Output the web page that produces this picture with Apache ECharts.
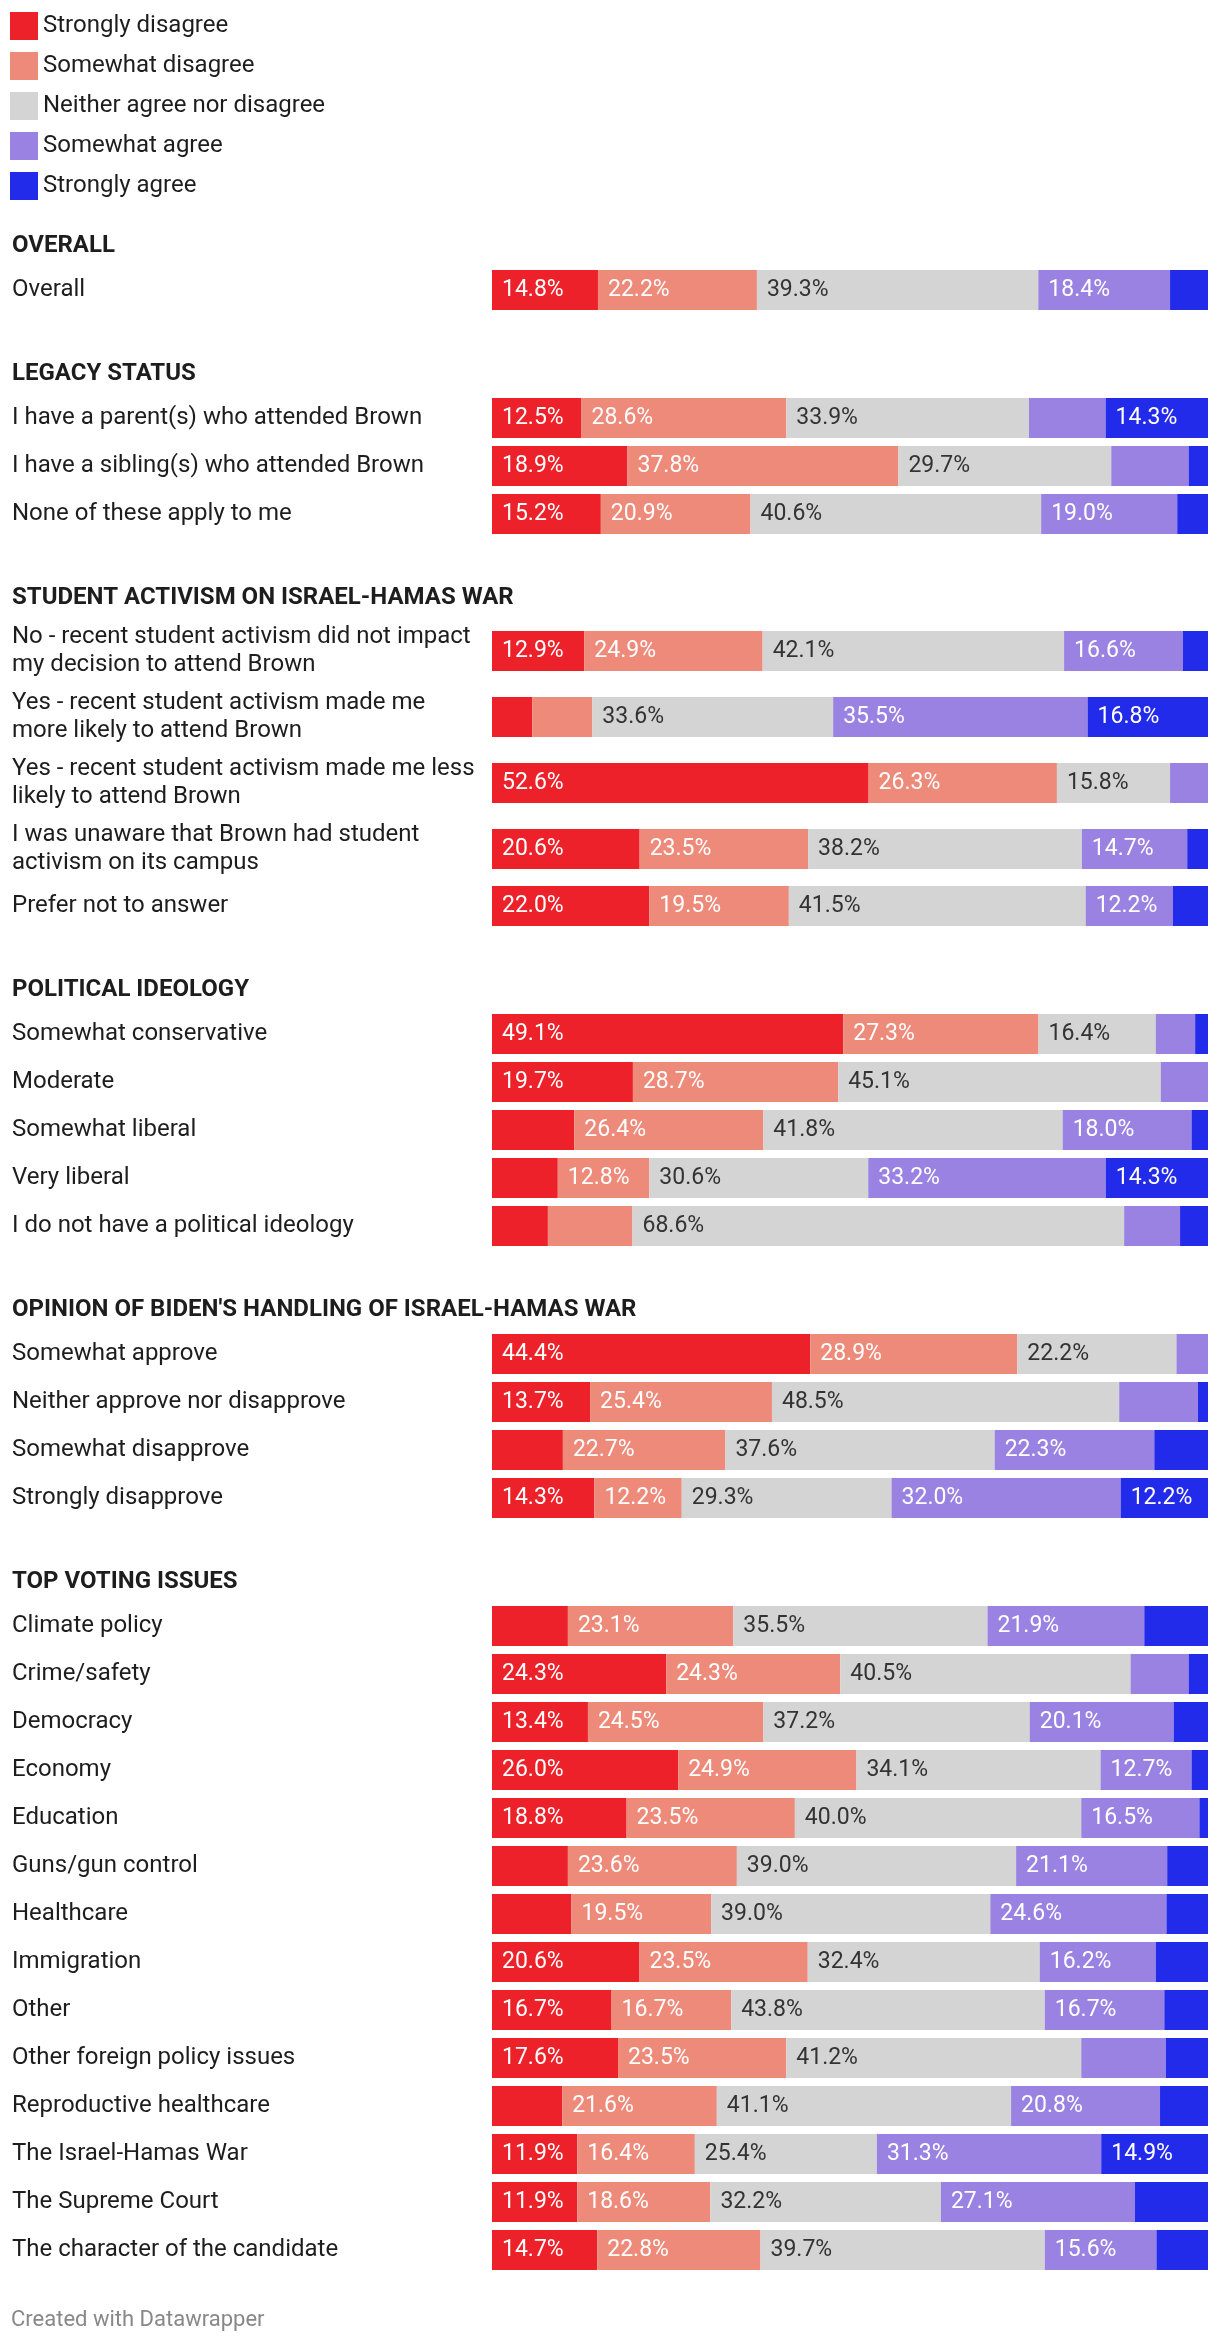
<!DOCTYPE html>
<html>
<head>
<meta charset="utf-8">
<script src="https://cdn.jsdelivr.net/npm/echarts@6/dist/echarts.min.js"></script>
<style>
html,body{margin:0;padding:0;background:#fff;}
#chart{width:1220px;height:2346px;}
</style>
</head>
<body>
<div id="chart"></div>
<script>
// ---- Data ----
const levelNames = ["Strongly disagree","Somewhat disagree","Neither agree nor disagree","Somewhat agree","Strongly agree"];
const sectionTitles = ["OVERALL","LEGACY STATUS","STUDENT ACTIVISM ON ISRAEL-HAMAS WAR","POLITICAL IDEOLOGY","OPINION OF BIDEN'S HANDLING OF ISRAEL-HAMAS WAR","TOP VOTING ISSUES"];
const categories = [
  "Overall",
  "I have a parent(s) who attended Brown",
  "I have a sibling(s) who attended Brown",
  "None of these apply to me",
  "No - recent student activism did not impact\nmy decision to attend Brown",
  "Yes - recent student activism made me\nmore likely to attend Brown",
  "Yes - recent student activism made me less\nlikely to attend Brown",
  "I was unaware that Brown had student\nactivism on its campus",
  "Prefer not to answer",
  "Somewhat conservative",
  "Moderate",
  "Somewhat liberal",
  "Very liberal",
  "I do not have a political ideology",
  "Somewhat approve",
  "Neither approve nor disapprove",
  "Somewhat disapprove",
  "Strongly disapprove",
  "Climate policy",
  "Crime/safety",
  "Democracy",
  "Economy",
  "Education",
  "Guns/gun control",
  "Healthcare",
  "Immigration",
  "Other",
  "Other foreign policy issues",
  "Reproductive healthcare",
  "The Israel-Hamas War",
  "The Supreme Court",
  "The character of the candidate"
];
const sectionOf = [0,1,1,1,2,2,2,2,2,3,3,3,3,3,4,4,4,4,5,5,5,5,5,5,5,5,5,5,5,5,5,5];
const stronglyDisagree = [14.8,12.5,18.9,15.2,12.9,5.6,52.6,20.6,22.0,49.1,19.7,11.5,9.2,7.8,44.4,13.7,9.9,14.3,10.6,24.3,13.4,26.0,18.8,10.6,11.1,20.6,16.7,17.6,9.8,11.9,11.9,14.7];
const somewhatDisagree = [22.2,28.6,37.8,20.9,24.9,8.4,26.3,23.5,19.5,27.3,28.7,26.4,12.8,11.8,28.9,25.4,22.7,12.2,23.1,24.3,24.5,24.9,23.5,23.6,19.5,23.5,16.7,23.5,21.6,16.4,18.6,22.8];
const neither          = [39.3,33.9,29.7,40.6,42.1,33.6,15.8,38.2,41.5,16.4,45.1,41.8,30.6,68.6,22.2,48.5,37.6,29.3,35.5,40.5,37.2,34.1,40.0,39.0,39.0,32.4,43.8,41.2,41.1,25.4,32.2,39.7];
const somewhatAgree    = [18.4,10.7,10.8,19.0,16.6,35.5,5.3,14.7,12.2,5.5,6.6,18.0,33.2,7.8,4.4,11.0,22.3,32.0,21.9,8.1,20.1,12.7,16.5,21.1,24.6,16.2,16.7,11.8,20.8,31.3,27.1,15.6];
const stronglyAgree    = [5.3,14.3,2.7,4.3,3.5,16.8,0,2.9,4.9,1.8,0,2.3,14.3,3.9,0,1.4,7.5,12.2,8.9,2.7,4.8,2.3,1.2,5.7,5.8,7.3,6.1,5.9,6.7,14.9,10.2,7.2];

// ---- Styles ----
const colors = ["#ED2129","#EE8A7A","#D4D4D4","#9A82E2","#232BEB"];
const labelColors = ["#fff","#fff","#333","#fff","#fff"];
const FONT = "Roboto, 'Noto Sans', sans-serif";
const values = [stronglyDisagree, somewhatDisagree, neither, somewhatAgree, stronglyAgree];

// ---- Layout ----
const BAR_LEFT = 492, BAR_RIGHT = 12, BAR_H = 40;
const ROW_GAP = 8, SECTION_GAP = 88;
let y = 270; // top of first row box
const barTops = [], headingY = [];
for (let i = 0; i < categories.length; i++) {
  const h = categories[i].indexOf("\n") >= 0 ? 58 : 40;
  if (i === 0 || sectionOf[i] !== sectionOf[i-1]) {
    if (i > 0) y += SECTION_GAP - ROW_GAP;
    headingY.push(y - 24);
  }
  barTops.push(y + (h - BAR_H) / 2);
  y += h + ROW_GAP;
}

const grids = [], xAxes = [], yAxes = [], series = [];
categories.forEach((cat, i) => {
  let total = 0;
  values.forEach(v => total += v[i]);
  grids.push({left: BAR_LEFT, right: BAR_RIGHT, top: barTops[i], height: BAR_H, containLabel: false});
  xAxes.push({type: 'value', gridIndex: i, min: 0, max: total, show: false});
  yAxes.push({
    type: 'category', gridIndex: i, data: [cat],
    axisLine: {show: false}, axisTick: {show: false}, splitLine: {show: false},
    axisLabel: {margin: BAR_LEFT - 12, align: 'left', fontSize: 24, lineHeight: 28, color: '#1d1d1d', fontFamily: FONT}
  });
  values.forEach((v, k) => {
    series.push({
      type: 'bar', name: levelNames[k], xAxisIndex: i, yAxisIndex: i, stack: 'row' + i,
      data: [v[i]], barWidth: BAR_H, silent: true,
      itemStyle: {color: colors[k]},
      label: {
        show: true, position: 'insideLeft', distance: 10,
        fontSize: 23, fontFamily: FONT, color: labelColors[k],
        formatter: p => (p.value >= 11.85 ? p.value.toFixed(1) + '%' : '')
      }
    });
  });
});

const graphics = sectionTitles.map((t, s) => ({
  type: 'text', x: 12, y: headingY[s],
  style: {text: t, fontSize: 24, fontWeight: 'bold', fontFamily: FONT, fill: '#1d1d1d', verticalAlign: 'middle', textVerticalAlign: 'middle'}
}));
graphics.push({
  type: 'text', x: 11, y: 2320,
  style: {text: 'Created with Datawrapper', fontSize: 22, fontFamily: FONT, fill: '#888888', verticalAlign: 'middle', textVerticalAlign: 'middle'}
});

const chart = echarts.init(document.getElementById('chart'), null, {renderer: 'canvas'});
chart.setOption({
  animation: false,
  backgroundColor: '#fff',
  legend: {
    data: levelNames, orient: 'vertical', left: 10, top: 12, padding: 0,
    itemWidth: 28, itemHeight: 28, itemGap: 12, icon: 'rect', selectedMode: false,
    textStyle: {fontSize: 24, color: '#1d1d1d', fontFamily: FONT}
  },
  grid: grids, xAxis: xAxes, yAxis: yAxes, series: series,
  graphic: graphics
});
</script>
</body>
</html>
